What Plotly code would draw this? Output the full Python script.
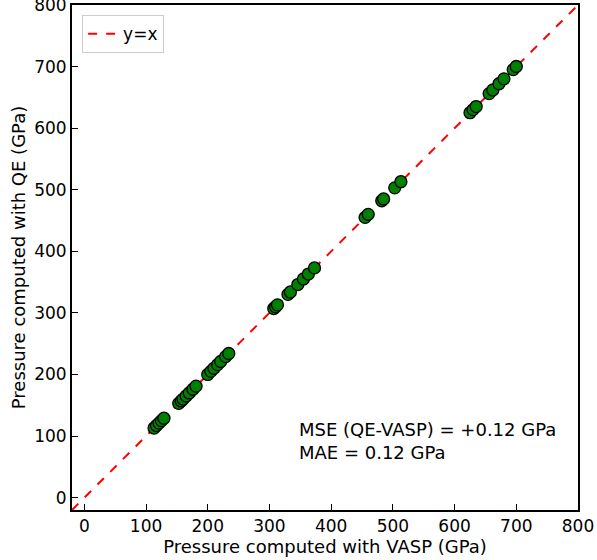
import plotly.graph_objects as go

vasp = [113, 117, 121, 125, 129,
        153, 157, 160, 165, 170, 176, 181,
        200, 205, 210, 216, 221, 229, 234,
        307, 310, 313, 330, 334, 346, 355, 363, 373,
        455, 460, 482, 485, 503, 513,
        625, 630, 635, 656, 662, 672, 680, 695, 700]
qe = [113.1, 117.1, 121.1, 125.1, 129.1,
      153.1, 157.1, 160.1, 165.1, 170.1, 176.1, 181.1,
      200.1, 205.1, 210.1, 216.1, 221.1, 229.1, 234.1,
      307.1, 310.1, 313.1, 330.1, 334.1, 346.1, 355.1, 363.1, 373.1,
      455.1, 460.1, 482.1, 485.1, 503.1, 513.1,
      625.1, 630.1, 635.1, 656.1, 662.1, 672.1, 680.1, 695.1, 700.1]
diag = [-20, 800]
ticks = [0, 100, 200, 300, 400, 500, 600, 700, 800]

FONT = "DejaVu Sans"
fig = go.Figure()
fig.add_trace(go.Scatter(x=diag, y=diag, mode="lines", name="y=x",
                         line=dict(color="red", dash="dash", width=2)))
fig.add_trace(go.Scatter(x=vasp, y=qe, mode="markers", showlegend=False,
                         marker=dict(color="green", size=12,
                                     line=dict(color="black", width=1.3))))

axis_common = dict(range=[-20, 800], tickvals=ticks, ticks="inside", ticklen=6,
                   tickwidth=1.3, tickcolor="black", showline=True, linecolor="black",
                   linewidth=2, mirror=True, showgrid=False, zeroline=False,
                   automargin=False, ticklabeloverflow="allow",
                   tickfont=dict(family=FONT, size=17, color="black"))
fig.update_xaxes(**axis_common, title=dict(text="Pressure computed with VASP (GPa)",
                 font=dict(family=FONT, size=18, color="black"), standoff=4))
fig.update_yaxes(**axis_common, title=dict(text="Pressure computed with QE (GPa)",
                 font=dict(family=FONT, size=18, color="black"), standoff=4))

fig.add_annotation(x=0.445, y=0.184, xref="paper", yref="paper", xanchor="left",
                   yanchor="top", align="left", showarrow=False,
                   text="MSE (QE-VASP) = +0.12 GPa<br>MAE = 0.12 GPa",
                   font=dict(family=FONT, size=18, color="black"))

fig.update_layout(width=597, height=560, plot_bgcolor="white", paper_bgcolor="white",
                  margin=dict(l=72, r=19, t=5, b=50),
                  font=dict(family=FONT),
                  legend=dict(x=0.02, y=0.98, xanchor="left", yanchor="top",
                              bgcolor="rgba(255,255,255,0.8)", bordercolor="#cccccc",
                              borderwidth=1, font=dict(family=FONT, size=17, color="black")))
fig.write_html("out.html", config={"displayModeBar": False},
               post_script="document.body.style.margin='0';")
